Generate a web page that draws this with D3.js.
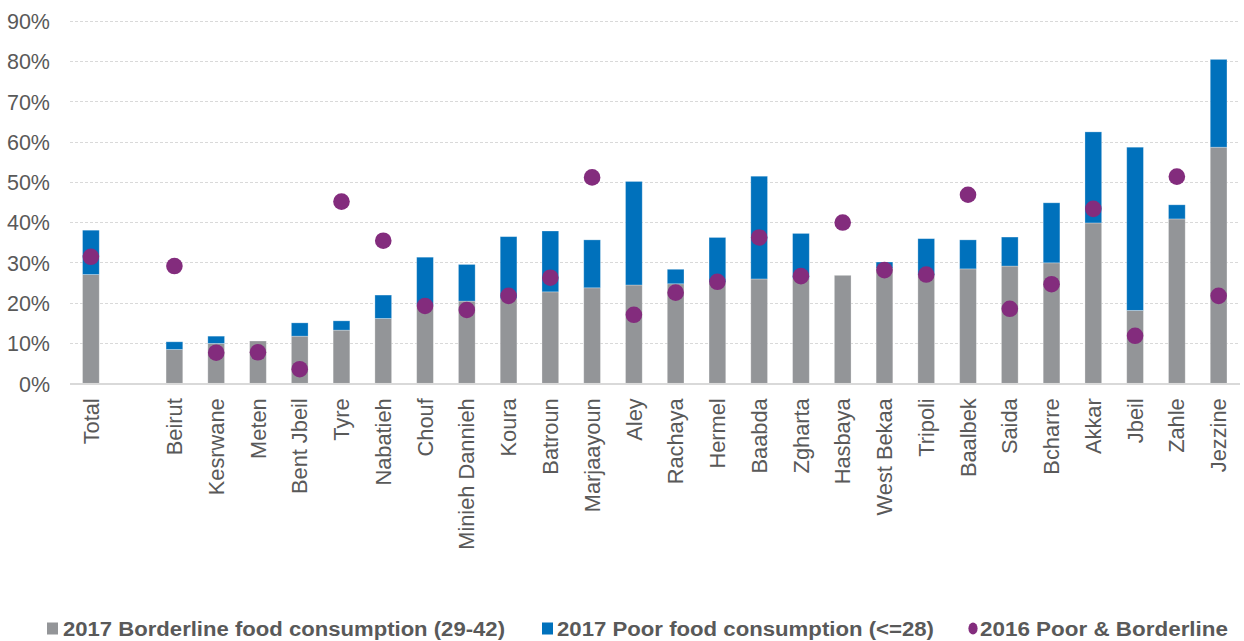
<!DOCTYPE html>
<html>
<head>
<meta charset="utf-8">
<script src="https://cdn.jsdelivr.net/npm/d3@7"></script>
<style>
  html, body { margin: 0; padding: 0; background: #fff; }
  svg { display: block; font-family: "Liberation Sans", Arial, Helvetica, sans-serif; }
</style>
</head>
<body>
<svg id="chart" width="1244" height="641"></svg>
<script>
// ---- data ----
const categories = ["Total", "", "Beirut", "Kesrwane", "Meten", "Bent Jbeil", "Tyre", "Nabatieh", "Chouf",
  "Minieh Dannieh", "Koura", "Batroun", "Marjaayoun", "Aley", "Rachaya", "Hermel", "Baabda", "Zgharta",
  "Hasbaya", "West Bekaa", "Tripoli", "Baalbek", "Saida", "Bcharre", "Akkar", "Jbeil", "Zahle", "Jezzine"];
const borderline2017 = [27.0, null, 8.4, 9.9, 10.5, 11.7, 13.2, 16.1, 19.3,
  20.4, 21.0, 22.7, 23.7, 24.4, 24.7, 25.0, 25.9, 26.0,
  26.8, 28.5, 26.8, 28.4, 29.1, 29.9, 39.8, 18.1, 40.8, 58.6];
const poor2017 = [11.0, null, 1.9, 1.8, 0.0, 3.3, 2.3, 5.8, 12.0,
  9.1, 15.4, 15.1, 11.9, 25.7, 3.6, 11.2, 25.5, 11.2,
  0.0, 1.6, 9.1, 7.2, 7.2, 14.9, 22.6, 40.5, 3.5, 21.8];
const poorBorderline2016 = [31.4, null, 29.1, 7.6, 7.7, 3.5, 45.1, 35.4, 19.2,
  18.2, 21.7, 26.2, 51.1, 17.0, 22.5, 25.2, 36.2, 26.6,
  39.9, 28.1, 27.0, 46.8, 18.5, 24.6, 43.3, 11.8, 51.3, 21.7];
const yTicks = [0, 10, 20, 30, 40, 50, 60, 70, 80, 90];
const seriesNames = ["2017 Borderline food consumption (29-42)", "2017 Poor food consumption (<=28)", "2016 Poor & Borderline"];

// ---- styles ----
const colGrey = "#939598", colBlue = "#0071BC", colPurple = "#832C7D", textCol = "#595959";

const svg = d3.select("#chart");
const x = d3.scaleBand().domain(categories.map((c, i) => i)).range([70, 1239.5]).paddingInner(0.6).paddingOuter(0.3);
const y = d3.scaleLinear().domain([0, 90]).range([383.3, 20.7]);

// grid
svg.append("g").selectAll("line").data(yTicks.filter(t => t > 0)).join("line")
  .attr("x1", 70).attr("x2", 1240)
  .attr("y1", d => Math.round(y(d)) + 0.5).attr("y2", d => Math.round(y(d)) + 0.5)
  .attr("stroke", "#d9d9d9").attr("stroke-width", 1).attr("stroke-dasharray", "3,2");

// y axis labels
const yAxis = d3.axisLeft(y).tickValues(yTicks).tickFormat(d => d + "%").tickSize(0).tickPadding(0);
const gy = svg.append("g").attr("transform", "translate(50,0)").call(yAxis);
gy.select(".domain").remove();
gy.selectAll("text").attr("fill", textCol).style("font-size", "21.5px").attr("dy", "0.36em");

const rows = categories.map((c, i) => ({ i, c, b: borderline2017[i], p: poor2017[i], d: poorBorderline2016[i] }))
  .filter(r => r.b !== null);

// bars
const gb = svg.append("g");
gb.selectAll("rect.b").data(rows).join("rect").attr("class", "b")
  .attr("x", r => x(r.i)).attr("width", x.bandwidth())
  .attr("y", r => y(r.b)).attr("height", r => y(0) - y(r.b))
  .attr("fill", colGrey);
gb.selectAll("rect.p").data(rows.filter(r => r.p > 0)).join("rect").attr("class", "p")
  .attr("x", r => x(r.i)).attr("width", x.bandwidth())
  .attr("y", r => y(r.b + r.p)).attr("height", r => y(r.b) - y(r.b + r.p))
  .attr("fill", colBlue);
gb.selectAll("rect").attr("stroke", "rgba(255,255,255,0.35)").attr("stroke-width", 0.8);

// baseline
svg.append("line").attr("x1", 70).attr("x2", 1240).attr("y1", y(0) + 0.7).attr("y2", y(0) + 0.7)
  .attr("stroke", "#d9d9d9").attr("stroke-width", 2);

// dots
svg.append("g").selectAll("circle").data(rows).join("circle")
  .attr("cx", r => x(r.i) + x.bandwidth() / 2).attr("cy", r => y(r.d)).attr("r", 8.3)
  .attr("fill", colPurple);

// x labels
const xAxis = d3.axisBottom(x).tickFormat(i => categories[i]).tickSize(0).tickPadding(0);
const gx = svg.append("g").attr("transform", `translate(0,${y(0)})`).call(xAxis);
gx.select(".domain").remove();
gx.selectAll("text")
  .attr("fill", textCol).style("font-size", "21.8px")
  .attr("text-anchor", "end")
  .attr("transform", "rotate(-90)")
  .attr("x", -15).attr("y", 0).attr("dy", "0.35em");

// legend
const legend = [
  { name: seriesNames[0], color: colGrey, shape: "rect", sx: 47, tx: 63, w: 442 },
  { name: seriesNames[1], color: colBlue, shape: "rect", sx: 542, tx: 557, w: 377 },
  { name: seriesNames[2], color: colPurple, shape: "circle", sx: 973, tx: 980, w: 248 }
];
const gl = svg.append("g");
legend.forEach(l => {
  if (l.shape === "rect") {
    gl.append("rect").attr("x", l.sx).attr("y", 622.5).attr("width", 11).attr("height", 12).attr("fill", l.color);
  } else {
    gl.append("ellipse").attr("cx", l.sx).attr("cy", 628.5).attr("rx", 4.6).attr("ry", 6).attr("fill", l.color);
  }
  gl.append("text").attr("x", l.tx).attr("y", 635.5).text(l.name)
    .attr("fill", textCol).style("font-size", "19.5px").style("font-weight", "bold")
    .attr("textLength", l.w).attr("lengthAdjust", "spacingAndGlyphs");
});
</script>
</body>
</html>
